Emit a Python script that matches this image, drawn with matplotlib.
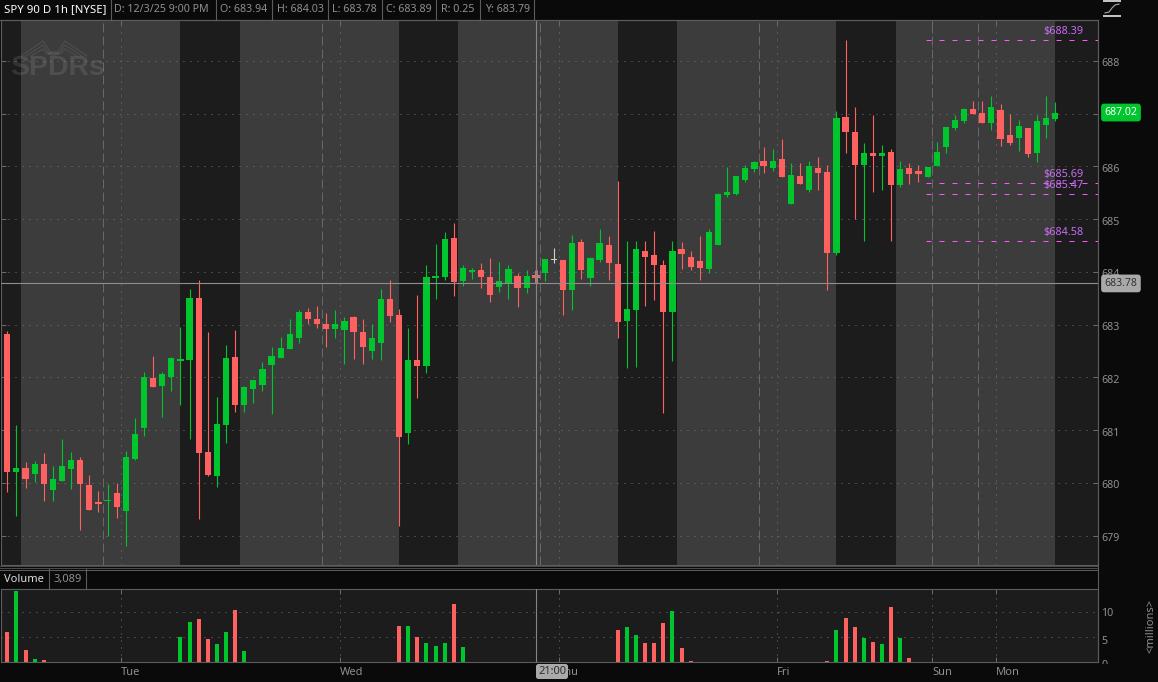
import matplotlib
matplotlib.use('Agg')
import matplotlib.pyplot as plt
import numpy as np
from matplotlib.patches import Ellipse, FancyBboxPatch
from matplotlib.transforms import Bbox, ScaledTranslation

opens = [682.83, 680.20, 680.29, 680.16, 680.35, 679.87, 680.04, 680.27, 680.44, 679.95,
         679.63, 679.65, 679.80, 679.47, 680.46, 681.03, 681.98, 681.83, 682.00, 682.30,
         682.32, 683.51, 680.59, 680.12, 681.09, 682.38, 681.48, 681.77, 681.86, 682.24,
         682.36, 682.53, 682.75, 683.23, 683.11, 683.02, 682.91, 682.89, 683.15, 682.85,
         682.49, 682.66, 683.48, 683.19, 680.94, 682.32, 682.21, 683.89, 683.91, 684.65,
         683.82, 683.99, 684.03, 683.91, 683.72, 683.78, 683.93, 683.70, 683.94, 683.97,
         684.22, 684.23, 683.65, 684.56, 683.89, 684.23, 684.50, 684.14, 683.06, 683.27,
         684.40, 684.31, 684.12, 683.23, 684.44, 684.29, 684.20, 684.06, 684.50, 685.45,
         685.47, 685.75, 685.94, 686.11, 685.96, 686.13, 685.29, 685.81, 685.56, 685.96,
         685.90, 684.35, 686.93, 686.66, 686.02, 686.26, 686.19, 686.28, 685.64, 685.96,
         685.92, 685.79, 686.00, 686.36, 686.72, 686.85, 687.08, 687.02, 686.83, 687.06,
         686.60, 686.53, 686.72, 686.26, 686.79, 686.89]
highs = [682.87, 681.09, 680.40, 680.42, 680.56, 680.31, 680.84, 680.59, 680.48, 680.14,
         679.85, 679.97, 679.99, 680.61, 681.22, 682.11, 682.41, 682.11, 682.38, 682.96,
         683.68, 683.84, 682.85, 681.62, 682.62, 682.89, 681.84, 681.94, 682.29, 682.58,
         682.77, 683.11, 683.27, 683.32, 683.36, 683.21, 683.27, 683.15, 683.17, 683.10,
         683.02, 683.68, 683.85, 683.30, 682.94, 683.57, 684.12, 684.52, 684.75, 684.92,
         684.12, 684.08, 684.16, 684.27, 684.18, 684.12, 683.97, 684.04, 684.03, 684.25,
         684.46, 684.23, 684.69, 684.63, 684.29, 684.82, 684.67, 685.73, 684.58, 684.58,
         684.59, 684.78, 684.23, 684.59, 684.56, 684.40, 684.67, 684.82, 685.50, 685.98,
         685.81, 686.02, 686.11, 686.37, 686.32, 686.51, 686.07, 686.07, 686.11, 686.17,
         686.02, 687.04, 688.40, 687.13, 686.45, 686.98, 686.41, 686.32, 686.11, 686.07,
         686.03, 685.98, 686.47, 686.74, 686.98, 687.11, 687.23, 687.23, 687.34, 687.19,
         687.00, 686.87, 686.72, 686.98, 687.34, 687.21]
lows = [679.82, 679.37, 679.90, 680.02, 679.65, 679.65, 680.04, 679.89, 679.10, 679.49,
        679.44, 678.99, 679.34, 678.81, 680.44, 680.88, 681.81, 681.24, 681.75, 681.48,
        680.84, 679.32, 680.12, 679.93, 680.75, 681.35, 681.35, 681.52, 681.75, 681.31,
        682.36, 682.53, 682.66, 683.02, 682.93, 682.58, 682.74, 682.26, 682.34, 682.26,
        682.34, 682.32, 683.04, 679.19, 680.73, 681.60, 682.09, 683.48, 683.84, 683.55,
        683.74, 683.87, 683.70, 683.42, 683.61, 683.49, 683.34, 683.59, 683.78, 683.82,
        684.16, 683.19, 683.27, 683.87, 683.74, 684.18, 683.85, 682.74, 682.17, 682.20,
        683.36, 683.46, 681.33, 682.30, 684.06, 684.04, 683.85, 683.97, 684.50, 685.41,
        685.45, 685.71, 685.90, 685.88, 685.92, 685.79, 685.29, 685.67, 685.52, 685.56,
        683.65, 684.31, 686.26, 685.01, 684.58, 685.52, 685.56, 684.59, 685.60, 685.66,
        685.71, 685.79, 686.00, 686.26, 686.68, 686.83, 687.00, 686.83, 686.68, 686.38,
        686.41, 686.30, 686.17, 686.09, 686.53, 686.85]
closes = [680.21, 680.29, 680.08, 680.35, 679.97, 680.08, 680.31, 680.44, 679.97, 679.49,
          679.59, 679.68, 679.55, 680.48, 680.93, 682.01, 681.81, 682.07, 682.36, 682.34,
          683.51, 680.56, 680.14, 681.12, 682.36, 681.47, 681.81, 681.94, 682.15, 682.41,
          682.55, 682.83, 683.23, 683.11, 683.02, 682.91, 683.02, 683.06, 682.85, 682.57,
          682.74, 683.49, 683.17, 680.86, 682.32, 682.21, 683.91, 683.93, 684.63, 683.80,
          684.08, 684.03, 683.91, 683.57, 683.82, 684.06, 683.70, 683.93, 683.89, 684.25,
          684.22, 683.65, 684.54, 684.03, 684.27, 684.54, 684.16, 683.04, 683.30, 684.44,
          684.29, 684.12, 683.23, 684.40, 684.33, 684.10, 684.08, 684.76, 685.48, 685.52,
          685.81, 685.96, 686.09, 686.00, 686.11, 685.79, 685.83, 685.67, 686.01, 685.88,
          684.35, 686.91, 686.66, 686.02, 686.26, 686.19, 686.26, 685.64, 685.94, 685.85,
          685.85, 685.98, 686.28, 686.74, 686.87, 687.08, 687.00, 686.83, 687.13, 686.51,
          686.45, 686.77, 686.24, 686.85, 686.91, 687.02]
# millions of shares, zero outside the regular session
volumes = [6.0, 14.1, 2.4, 0.7, 0.45, 0, 0, 0, 0, 0,
           0, 0, 0, 0, 0, 0, 0, 0, 0, 5.0,
           8.0, 8.55, 4.6, 3.6, 6.0, 10.3, 2.2, 0, 0, 0,
           0, 0, 0, 0, 0, 0, 0, 0, 0, 0,
           0, 0, 0, 7.2, 7.2, 5.0, 3.8, 3.2, 3.8, 11.5,
           3.0, 0, 0, 0, 0, 0, 0, 0, 0, 0,
           0, 0, 0, 0, 0, 0, 0, 6.4, 7.0, 5.4,
           3.8, 3.8, 7.8, 10.1, 2.8, 0.26, 0, 0, 0, 0,
           0, 0, 0, 0, 0, 0, 0, 0, 0, 0,
           0.26, 6.4, 8.9, 7.0, 4.8, 4.0, 3.6, 10.9, 4.8, 0.85,
           0, 0, 0, 0, 0, 0, 0, 0, 0, 0,
           0, 0, 0, 0, 0, 0]

price_ticks = [679, 680, 681, 682, 683, 684, 685, 686, 687, 688]
# 687 sits under the last price flag, so it gets no label
price_labels = ['679', '680', '681', '682', '683', '684', '685', '686', '', '688']
volume_ticks = [5, 10]
level_prices = [688.39, 685.69, 685.47, 684.58]
last_price = 687.02
cross_price = 683.78
cross_index = 58

dark_bands = [(-0.7, 1.5), (19, 25.5), (43, 49.5), (67, 73.5), (91, 97.5), (115, 119.7)]
session_lines = [10.5, 34.5, 58.5, 82.5, 101.5, 106.5]
day_lines = [12.5, 36.5, 60.5, 84.5, 101.5, 108.5]
day_labels = ['Tue', 'Wed', 'Thu', 'Fri', 'Sun', 'Mon']

header_texts = ['D: 12/3/25 9:00 PM', 'O: 683.94', 'H: 684.03', 'L: 683.78',
                'C: 683.89', 'R: 0.25', 'Y: 683.79']

BG = '#0a0a0a'
LIGHT = '#3c3c3c'
DARK = '#1c1c1c'
LINE = '#5c5c5c'
GRID = '#747474'
TXT = '#8f8f8f'
GREEN = '#00c62e'
RED = '#ff6060'
MAGENTA = '#ff55ff'
W, H = 1158, 682
X0, X1 = 1, 1098

plt.rcParams['font.family'] = ['Noto Sans', 'DejaVu Sans']
plt.rcParams['font.size'] = 8

fig = plt.figure(figsize=(W / 100, H / 100), dpi=100, facecolor=BG)


def px_axes(left, top, right, bottom):
    return fig.add_axes([left / W, 1 - bottom / H, (right - left) / W, (bottom - top) / H])


ax = px_axes(X0, 20, X1, 565)
vax = px_axes(X0, 589, X1, 662.4)
xlim = (-0.69, 119.7)
n = len(opens)
x = np.arange(n)
opens, highs, lows, closes = map(np.array, (opens, highs, lows, closes))
colors = [GREEN if c > o else (RED if c < o else '#d0d0d0') for o, c in zip(opens, closes)]
colors[cross_index] = '#cf7676'

# price panel
ax.set_facecolor(LIGHT)
ax.set_xlim(xlim)
ax.set_ylim(678.442, 688.774)
for a, b in dark_bands:
    ax.axvspan(a, b, color=DARK, lw=0, zorder=0)
for p in price_ticks:
    ax.axhline(p, color=GRID, lw=0.72, ls=(0, (1, 6)), zorder=1)
for d in day_lines:
    ax.axvline(d, color=GRID, lw=0.72, ls=(0, (1, 6)), zorder=1)
for s in session_lines:
    ax.axvline(s, color='#686868', lw=0.72, ls=(0, (9, 4)), zorder=1)

wicks = ax.vlines(x, lows, highs, colors=colors, lw=0.8, zorder=3)
wicks.set_snap(True)
bottoms = np.minimum(opens, closes)
heights = np.maximum(np.abs(closes - opens), 0.02)
widths = [0.68] * n
widths[cross_index] = 0.88
ax.bar(x, heights, widths, bottom=bottoms, color=colors, lw=0, zorder=4)
ax.vlines([cross_index], [lows[cross_index]], [highs[cross_index]], colors=colors[cross_index],
          lw=2.1, zorder=3)

levels = ax.hlines(level_prices, 100.85, xlim[1], colors=MAGENTA, lw=0.72, ls=(0, (5, 8)), zorder=5)
levels.set_snap(True)
for p in level_prices:
    ax.annotate(f'${p:.2f}', (115.9, p), xytext=(0, 6.2), textcoords='offset points',
                color='#c86cf5', fontsize=7.8, ha='center', va='center', zorder=6)

ax.axhline(cross_price, color='#8e8e8e', lw=0.8, zorder=6)
ax.axvline(cross_index, color='#868686', lw=0.8, zorder=6)

ax.set_xticks(day_lines)
ax.set_yticks(price_ticks)
ax.set_yticklabels(price_labels)
ax.set_xticklabels([])
ax.tick_params(axis='y', direction='in', length=3.6, width=0.72, color='#6a6a6a', left=True, right=True,
               labelleft=False, labelright=True, labelcolor=TXT, labelsize=7.7, pad=2.4)
ax.tick_params(axis='x', direction='in', length=3.6, width=0.72, color='#6a6a6a', top=True, bottom=False)
nudge = ScaledTranslation(0, -1.5 / 100, fig.dpi_scale_trans)
for lab in ax.get_yticklabels():
    lab.set_transform(lab.get_transform() + nudge)
for s in ax.spines.values():
    s.set_color(LINE)
    s.set_linewidth(0.8)

tr = ax.get_yaxis_transform()
ax.text(1.0 + 6.5 / (X1 - X0), last_price, f'{last_price:.2f}', transform=tr, color='white', fontsize=7.6,
        ha='left', va='center', zorder=8, clip_on=False,
        bbox=dict(boxstyle='round,pad=0.32,rounding_size=0.3', fc=GREEN, ec='none'))
ax.text(1.0 + 6.5 / (X1 - X0), cross_price, f'{cross_price:.2f}', transform=tr, color='#333333', fontsize=7.6,
        ha='left', va='center', zorder=8, clip_on=False,
        bbox=dict(boxstyle='round,pad=0.32,rounding_size=0.3', fc='#a9a9a9', ec='none'))

# volume panel
vax.set_facecolor(DARK)
vax.set_xlim(xlim)
vax.set_ylim(0, 14.55)
for p in volume_ticks:
    vax.axhline(p, color=GRID, lw=0.72, ls=(0, (1, 6)), zorder=1)
for d in day_lines:
    vax.axvline(d, color=GRID, lw=0.72, ls=(0, (1, 6)), zorder=1)
vax.bar(x, volumes, 0.44, color=colors[:cross_index] + [RED] + colors[cross_index + 1:], lw=0, zorder=3)
vax.axvline(cross_index, color='#868686', lw=0.8, zorder=4)
vax.set_xticks(day_lines)
vax.set_xticklabels(day_labels, ha='left')
vax.set_yticks(volume_ticks)
vax.tick_params(axis='x', direction='in', length=3.6, width=0.72, color='#6a6a6a', top=True, bottom=True,
                labelcolor=TXT, labelsize=8, pad=3.6)
vax.tick_params(axis='y', left=False, right=False, labelleft=False)
for s in vax.spines.values():
    s.set_color(LINE)
    s.set_linewidth(0.8)

# volume scale labels sit a little below their lines; the "0" is cut off by the strip under the panel
vtr = vax.get_yaxis_transform()
for v, y_lab in [(10, 9.6), (5, 4.2)]:
    vax.text(1.0 + 3.5 / (X1 - X0), y_lab, str(v), transform=vtr, color=TXT, fontsize=7.7,
             ha='left', va='center', clip_on=False)
zero = vax.text(1.0 + 3.5 / (X1 - X0), -0.55, '0', transform=vtr, color=TXT, fontsize=7.7,
                ha='left', va='center', clip_on=True)
zero.set_clip_box(Bbox.from_extents(0, H - 663.5, W, H))

# header, legend strip and the rest, laid out in pixels
top = fig.add_axes([0, 0, 1, 1], zorder=10)
top.set_xlim(0, W)
top.set_ylim(H, 0)
top.axis('off')

top.text(4, 9.5, 'SPY 90 D 1h [NYSE]', color='white', fontsize=8.2, fontweight='bold', va='center')
seps = [110.5, 215.5, 272, 328, 382, 436, 480, 534]
text_x = [114.5, 219.5, 277, 332, 386.5, 441, 485]
for sx in seps:
    top.plot([sx, sx], [0, 19.5], color=LINE, lw=0.8)
for tx, t in zip(text_x, header_texts):
    top.text(tx, 9.5, t, color=TXT, fontsize=7.7, va='center')
top.plot([0, X1], [19.5, 19.5], color=LINE, lw=0.8)

for yy in [566, 567.5]:
    top.plot([0, X1], [yy, yy], color='#4a4a4a', lw=0.72)
top.plot([0, X1], [569.5, 569.5], color=LINE, lw=0.72)
top.plot([X1, X1], [20, 662], color=LINE, lw=0.8)
top.text(4, 579.5, 'Volume', color='#dddddd', fontsize=8, va='center')
top.plot([49, 49], [569, 589], color=LINE, lw=0.8)
top.text(53, 579.5, '3,089', color=TXT, fontsize=8, va='center')
top.plot([85.5, 85.5], [569, 589], color=LINE, lw=0.8)
top.text(1151, 626, '<millions>', color=TXT, fontsize=8, rotation=90, ha='center', va='center')

# crosshair time flag over the axis labels
top.add_patch(FancyBboxPatch((537, 665), 30, 13, boxstyle='round,pad=1,rounding_size=2.5', fc='#aaaaaa',
                             ec='none', zorder=5))
top.text(552, 671.5, '21:00', color='#2e2e2e', fontsize=8, ha='center', va='center', zorder=6)

# SPDRs watermark
top.text(10, 68, 'SPDRs', color='white', alpha=0.10, fontsize=20.5, fontweight='bold',
         family=['Liberation Sans', 'DejaVu Sans'], va='center', ha='left')
for leg in ([(21, 56), (43, 41), (51, 53)], [(26, 56), (43, 45), (49, 54)], [(31, 56), (43, 49), (47, 54)],
            [(87, 56), (65, 41), (57, 53)], [(82, 56), (65, 45), (59, 54)], [(77, 56), (65, 49), (61, 54)]):
    lx, ly = zip(*leg)
    top.plot(lx, ly, color='white', alpha=0.09, lw=0.8)
top.add_patch(Ellipse((53.5, 53.5), 12, 4, fc='white', alpha=0.10, ec='none'))

# study icon at the top right
top.plot([1104, 1120], [1, 1], color='#c8c8c8', lw=1.4)
top.plot([1104, 1120], [16, 16], color='#c8c8c8', lw=1.4)
top.plot([1105, 1109, 1112, 1115, 1119], [13, 12, 8, 5, 4], color='#a8a8a8', lw=0.8)

fig.savefig('out.png', dpi=100, facecolor=BG)
